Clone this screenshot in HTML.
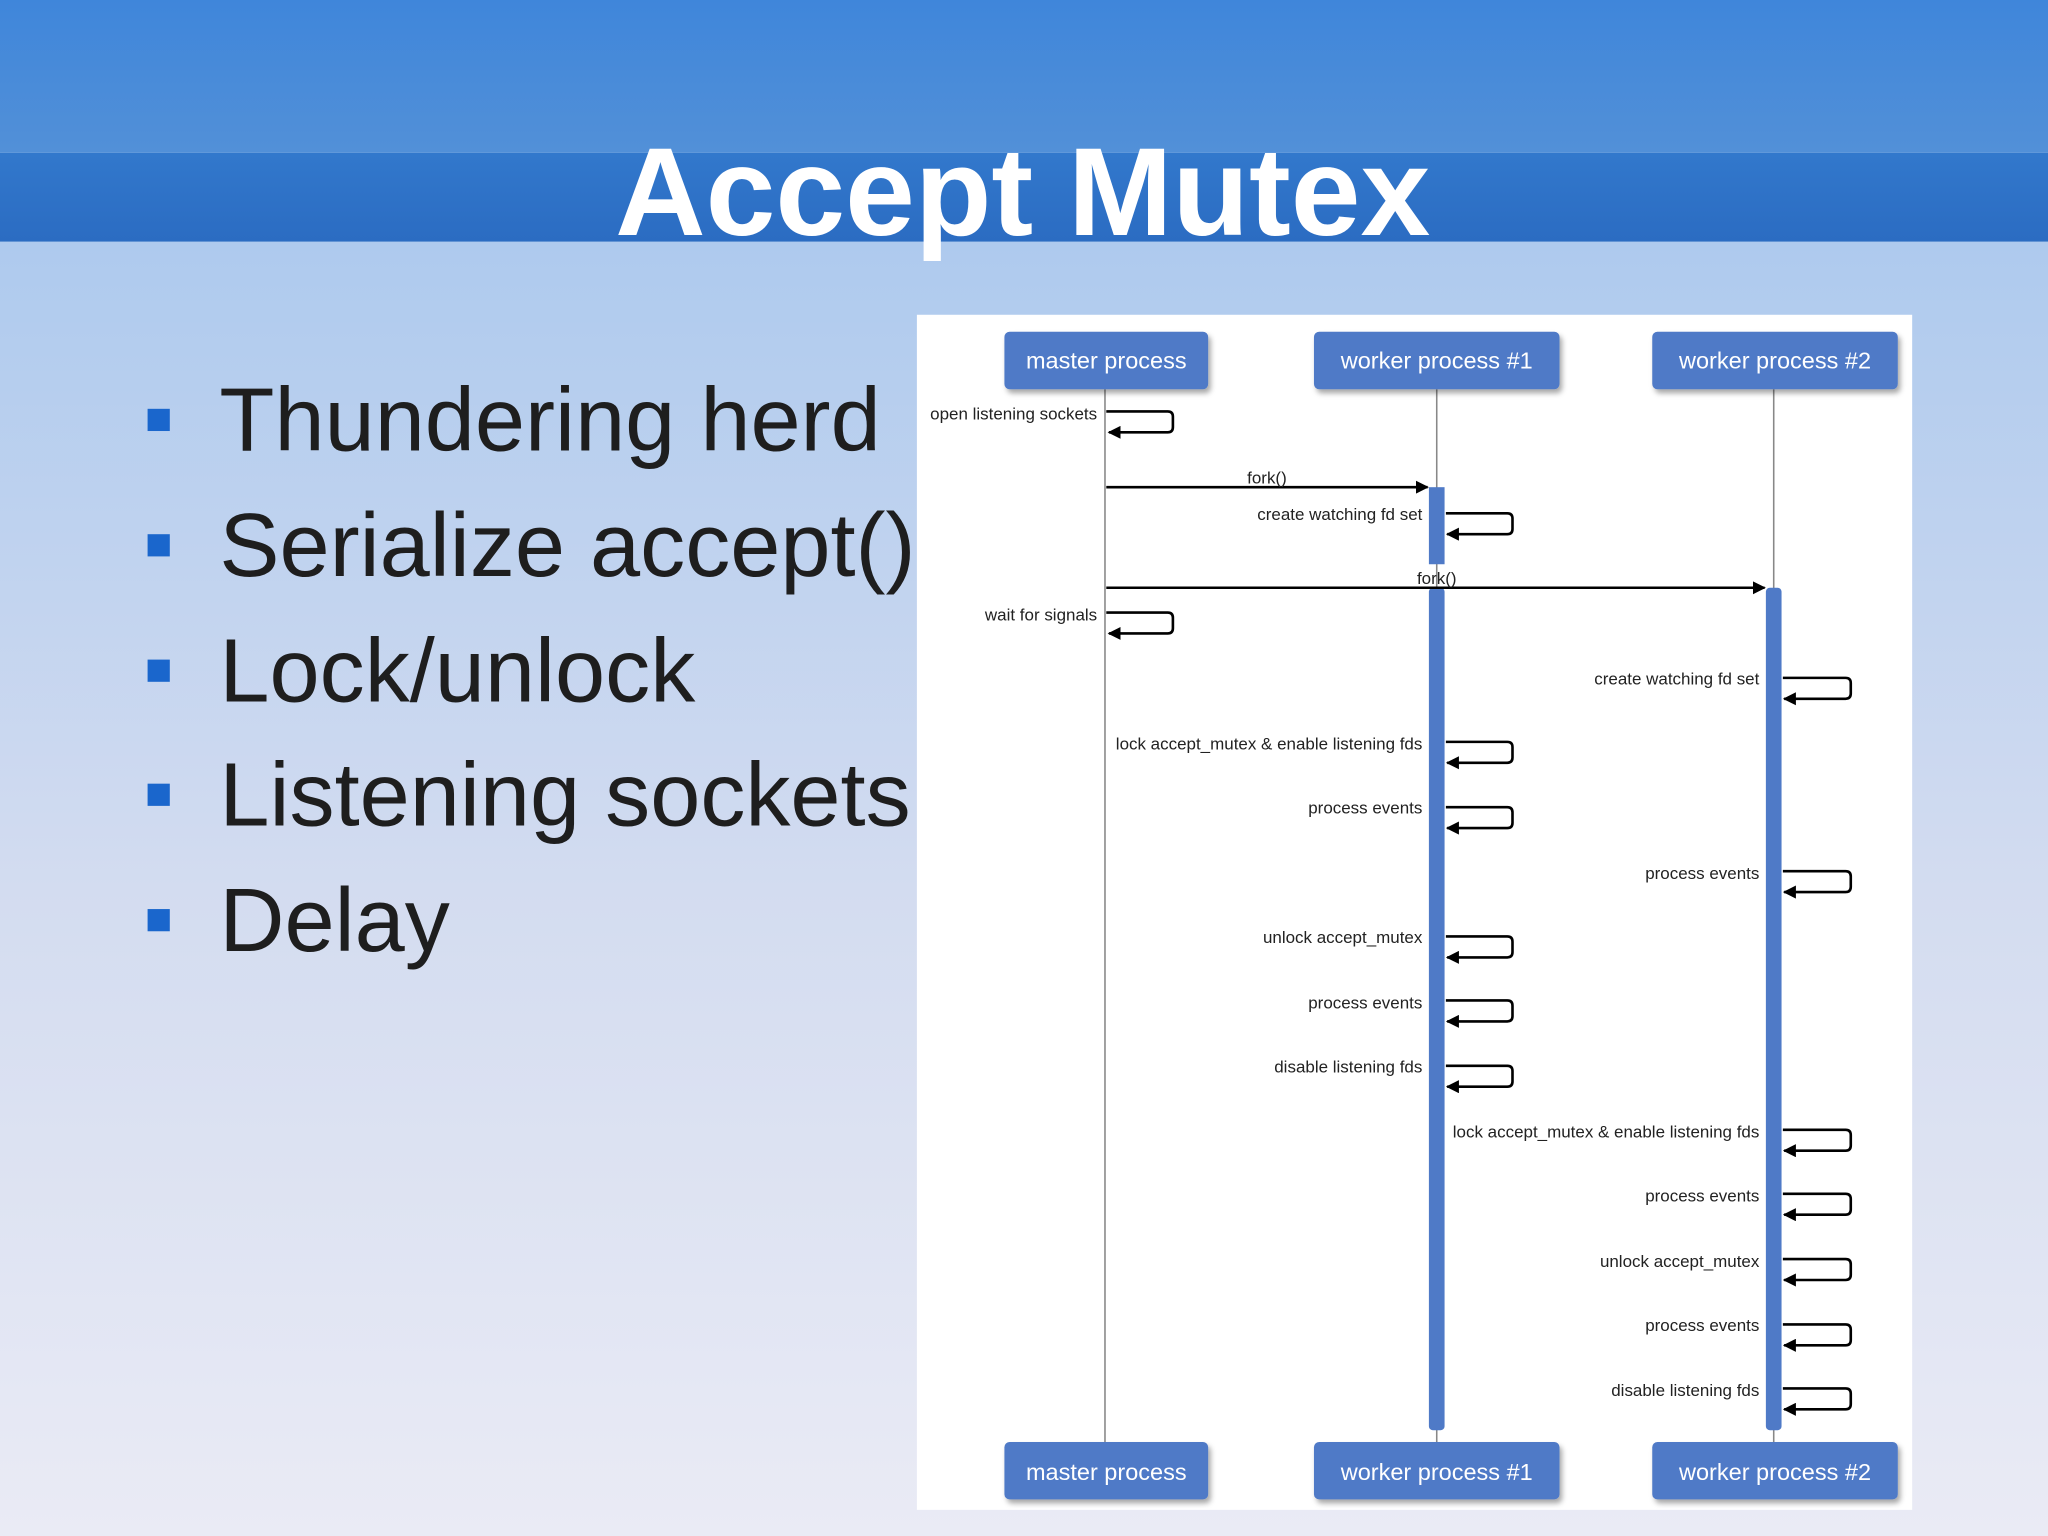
<!DOCTYPE html>
<html><head><meta charset="utf-8"><style>
html,body{margin:0;padding:0;width:2048px;height:1536px;overflow:hidden}
svg{display:block}
</style></head><body>
<svg width="2048" height="1536" viewBox="0 0 1568 1176" xmlns="http://www.w3.org/2000/svg" font-family="'Liberation Sans', sans-serif">
<defs>
<linearGradient id="top" x1="0" y1="0" x2="0" y2="1"><stop offset="0" stop-color="#3f86da"/><stop offset="1" stop-color="#5290d8"/></linearGradient>
<linearGradient id="band" x1="0" y1="0" x2="0" y2="1"><stop offset="0" stop-color="#3278cc"/><stop offset="1" stop-color="#2b6cc2"/></linearGradient>
<linearGradient id="bg" x1="0" y1="0" x2="0" y2="1"><stop offset="0" stop-color="#aecaee"/><stop offset="0.5" stop-color="#d3dcf0"/><stop offset="1" stop-color="#eaebf5"/></linearGradient>
<marker id="ah" markerWidth="10" markerHeight="10" refX="9" refY="5" orient="auto" markerUnits="userSpaceOnUse"><path d="M0,0 L10,5 L0,10 z" fill="#000"/></marker>
<filter id="sh" x="-10%" y="-10%" width="130%" height="140%"><feDropShadow dx="2" dy="3" stdDeviation="2" flood-color="#000" flood-opacity="0.35"/></filter>
</defs>
<rect x="0" y="185" width="1568" height="991" fill="url(#bg)"/>
<rect x="0" y="0" width="1568" height="117" fill="url(#top)"/>
<rect x="0" y="117" width="1568" height="68" fill="url(#band)"/>
<text x="783" y="180" text-anchor="middle" font-size="96" font-weight="bold" fill="#fff">Accept Mutex</text>

<g fill="#1a66cc">
<rect x="113" y="313" width="17" height="17"/><rect x="113" y="409" width="17" height="17"/><rect x="113" y="505" width="17" height="17"/><rect x="113" y="600" width="17" height="17"/><rect x="113" y="696" width="17" height="17"/>
</g>
<g font-size="69" fill="#1e1e1e">
<text x="168" y="345">Thundering herd</text>
<text x="168" y="441">Serialize accept()</text>
<text x="168" y="537">Lock/unlock</text>
<text x="168" y="632">Listening sockets</text>
<text x="168" y="728">Delay</text>
</g>

<rect x="702" y="241" width="762" height="915" fill="#fff"/>
<g stroke="#888" stroke-width="1.2">
<line x1="846" y1="298" x2="846" y2="1104"/><line x1="1100" y1="298" x2="1100" y2="1104"/><line x1="1358" y1="298" x2="1358" y2="1104"/>
</g>
<g fill="#4f7ac7">
<rect x="1094" y="373" width="12" height="59"/><rect x="1094" y="450" width="12" height="645" rx="3"/><rect x="1352" y="450" width="12" height="645" rx="3"/>
</g>
<g fill="#4f7ac7" filter="url(#sh)">
<rect x="769" y="254" width="156" height="44" rx="4"/><rect x="1006" y="254" width="188" height="44" rx="4"/><rect x="1265" y="254" width="188" height="44" rx="4"/>
<rect x="769" y="1104" width="156" height="44" rx="4"/><rect x="1006" y="1104" width="188" height="44" rx="4"/><rect x="1265" y="1104" width="188" height="44" rx="4"/>
</g>
<g font-size="18" fill="#fff" text-anchor="middle">
<text x="847" y="282">master process</text><text x="1100" y="282">worker process #1</text><text x="1359" y="282">worker process #2</text>
<text x="847" y="1133">master process</text><text x="1100" y="1133">worker process #1</text><text x="1359" y="1133">worker process #2</text>
</g>
<g stroke="#000" stroke-width="2" fill="none">
<line x1="847" y1="373" x2="1093" y2="373" marker-end="url(#ah)"/>
<line x1="847" y1="450" x2="1351" y2="450" marker-end="url(#ah)"/>
</g>
<g font-size="13" fill="#222" text-anchor="middle">
<text x="970" y="370">fork()</text><text x="1100" y="447">fork()</text>
</g>
<g stroke="#000" stroke-width="2" fill="none">
<path d="M847,315 H894 Q898,315 898,319 V327 Q898,331 894,331 H849" marker-end="url(#ah)"/>
<path d="M847,469 H894 Q898,469 898,473 V481 Q898,485 894,485 H849" marker-end="url(#ah)"/>
<path d="M1107,393 H1154 Q1158,393 1158,397 V405 Q1158,409 1154,409 H1108" marker-end="url(#ah)"/>
<path d="M1107,568 H1154 Q1158,568 1158,572 V580 Q1158,584 1154,584 H1108" marker-end="url(#ah)"/>
<path d="M1107,618 H1154 Q1158,618 1158,622 V630 Q1158,634 1154,634 H1108" marker-end="url(#ah)"/>
<path d="M1107,717 H1154 Q1158,717 1158,721 V729 Q1158,733 1154,733 H1108" marker-end="url(#ah)"/>
<path d="M1107,766 H1154 Q1158,766 1158,770 V778 Q1158,782 1154,782 H1108" marker-end="url(#ah)"/>
<path d="M1107,816 H1154 Q1158,816 1158,820 V828 Q1158,832 1154,832 H1108" marker-end="url(#ah)"/>
<path d="M1365,519 H1413 Q1417,519 1417,523 V531 Q1417,535 1413,535 H1366" marker-end="url(#ah)"/>
<path d="M1365,667 H1413 Q1417,667 1417,671 V679 Q1417,683 1413,683 H1366" marker-end="url(#ah)"/>
<path d="M1365,865 H1413 Q1417,865 1417,869 V877 Q1417,881 1413,881 H1366" marker-end="url(#ah)"/>
<path d="M1365,914 H1413 Q1417,914 1417,918 V926 Q1417,930 1413,930 H1366" marker-end="url(#ah)"/>
<path d="M1365,964 H1413 Q1417,964 1417,968 V976 Q1417,980 1413,980 H1366" marker-end="url(#ah)"/>
<path d="M1365,1014 H1413 Q1417,1014 1417,1018 V1026 Q1417,1030 1413,1030 H1366" marker-end="url(#ah)"/>
<path d="M1365,1063 H1413 Q1417,1063 1417,1067 V1075 Q1417,1079 1413,1079 H1366" marker-end="url(#ah)"/>
</g>
<g font-size="13" fill="#222" text-anchor="end">
<text x="840" y="321">open listening sockets</text>
<text x="840" y="475">wait for signals</text>
<text x="1089" y="398">create watching fd set</text>
<text x="1089" y="574">lock accept_mutex &amp; enable listening fds</text>
<text x="1089" y="623">process events</text>
<text x="1089" y="722">unlock accept_mutex</text>
<text x="1089" y="772">process events</text>
<text x="1089" y="821">disable listening fds</text>
<text x="1347" y="524">create watching fd set</text>
<text x="1347" y="673">process events</text>
<text x="1347" y="871">lock accept_mutex &amp; enable listening fds</text>
<text x="1347" y="920">process events</text>
<text x="1347" y="970">unlock accept_mutex</text>
<text x="1347" y="1019">process events</text>
<text x="1347" y="1069">disable listening fds</text>
</g>
</svg>
</body></html>
